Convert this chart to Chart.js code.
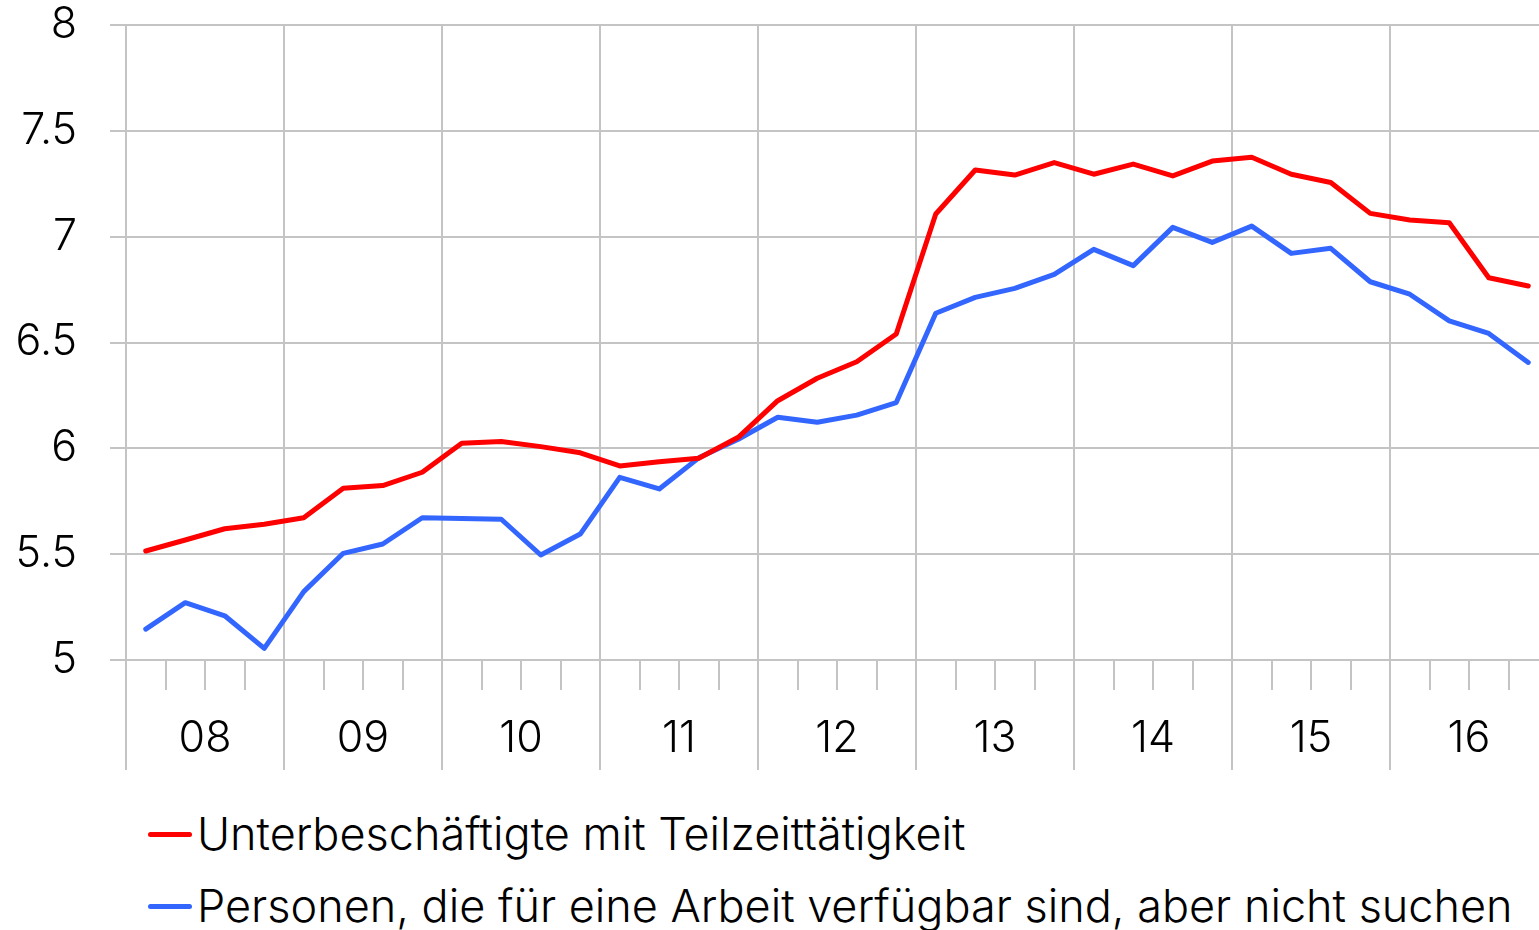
<!DOCTYPE html>
<html>
<head>
<meta charset="utf-8">
<title>Unterbeschäftigung</title>
<script src="https://cdn.jsdelivr.net/npm/chart.js@4/dist/chart.umd.min.js"></script>
<style>
html, body { margin: 0; padding: 0; background: #fff; overflow: hidden; }
#wrap { position: relative; width: 1550px; height: 930px; }
#chartBox { position: absolute; left: 0; top: 0; width: 1550px; height: 790px; }
.legend-row { position: absolute; left: 148px; height: 60px; line-height: 60px; font-family: Inter, sans-serif; font-weight: 300; font-size: 45px; color: #000; white-space: nowrap; }
.legend-row .mark { position: absolute; left: 0; top: 28px; width: 44px; height: 5px; border-radius: 3px; }
.legend-row .txt { position: absolute; left: 49px; top: 0; }
</style>
</head>
<body>
<div id="wrap">
  <div id="chartBox"><canvas id="chart"></canvas></div>
  <div class="legend-row" id="leg0" style="top:804px"><span class="mark"></span><span class="txt"></span></div>
  <div class="legend-row" id="leg1" style="top:876px"><span class="mark"></span><span class="txt"></span></div>
</div>
<script>
// years shown under the axis, one category per quarter
var years = ['08', '09', '10', '11', '12', '13', '14', '15', '16'];
var quarters = ['Q1', 'Q2', 'Q3', 'Q4'];
var yTicks = [5, 5.5, 6, 6.5, 7, 7.5, 8];

var redLabel = 'Unterbeschäftigte mit Teilzeittätigkeit';
var blueLabel = 'Personen, die für eine Arbeit verfügbar sind, aber nicht suchen';

var redValues = [5.515, 5.567, 5.62, 5.641, 5.672, 5.811, 5.824, 5.887, 6.024, 6.032, 6.008, 5.979,
  5.917, 5.937, 5.953, 6.052, 6.225, 6.331, 6.409, 6.54, 7.107, 7.315, 7.291, 7.35,
  7.295, 7.343, 7.287, 7.357, 7.375, 7.295, 7.256, 7.11, 7.079, 7.066, 6.806, 6.767];
var blueValues = [5.146, 5.271, 5.209, 5.055, 5.323, 5.504, 5.548, 5.672, 5.669, 5.665, 5.496, 5.595,
  5.863, 5.808, 5.955, 6.043, 6.147, 6.123, 6.157, 6.216, 6.638, 6.713, 6.756, 6.822,
  6.94, 6.863, 7.044, 6.973, 7.05, 6.921, 6.945, 6.787, 6.728, 6.602, 6.543, 6.406];

var redColor = '#ff0000';
var blueColor = '#3366ff';
var gridGray = '#c4c4c4';

var quarterLabels = [];
years.forEach(y => quarters.forEach(q => quarterLabels.push(y + ' ' + q)));

var axisFont = { family: 'Inter, sans-serif', size: 43, weight: 300 };

// html legend, the chart.js one can't be indented like the original
[[redLabel, redColor], [blueLabel, blueColor]].forEach((e, i) => {
  var row = document.querySelector('#leg' + i);
  row.querySelector('.mark').style.background = e[1];
  row.querySelector('.txt').textContent = e[0];
});

new Chart(document.querySelector('#chart').getContext('2d'), {
  type: 'line',
  data: {
    labels: quarterLabels,
    datasets: [{
      label: redLabel,
      data: redValues,
      borderColor: redColor,
      backgroundColor: redColor,
      borderWidth: 5,
      pointRadius: 0,
      tension: 0,
      borderCapStyle: 'round',
      borderJoinStyle: 'round',
      xAxisID: 'x'
    }, {
      label: blueLabel,
      data: blueValues,
      borderColor: blueColor,
      backgroundColor: blueColor,
      borderWidth: 5,
      pointRadius: 0,
      tension: 0,
      borderCapStyle: 'round',
      borderJoinStyle: 'round',
      xAxisID: 'x'
    }]
  },
  options: {
    responsive: true,
    maintainAspectRatio: false,
    animation: false,
    layout: { padding: { left: 0, right: 2, top: 0, bottom: 0 } },
    plugins: {
      legend: { display: false },
      tooltip: { enabled: false }
    },
    scales: {
      // quarters: only the short tick marks
      x: {
        type: 'category',
        position: 'bottom',
        offset: true,
        grid: { offset: true, drawOnChartArea: false, tickLength: 30, color: gridGray, lineWidth: 2 },
        border: { display: true, color: gridGray, width: 2 },
        ticks: { display: false }
      },
      // years: grid lines through the plot and long separators with the labels
      x2: {
        type: 'category',
        position: 'bottom',
        labels: years,
        offset: true,
        grid: { offset: true, tickLength: 80, color: gridGray, lineWidth: 2 },
        border: { display: false },
        ticks: { font: axisFont, color: '#000', padding: -57, maxRotation: 0, autoSkip: false },
        afterFit: s => { s.height = 100; }
      },
      y: {
        min: 5,
        max: 8,
        afterBuildTicks: s => { s.ticks = yTicks.map(v => ({ value: v })); },
        grid: { color: gridGray, lineWidth: 2, tickLength: 16 },
        border: { display: false },
        ticks: {
          font: axisFont,
          color: '#000',
          padding: 33,
          callback: v => String(v)
        },
        // the label gap shouldn't push the plot down
        afterFit: s => { s.width = 126; s.paddingTop = 25; }
      }
    }
  }
});
</script>
</body>
</html>
